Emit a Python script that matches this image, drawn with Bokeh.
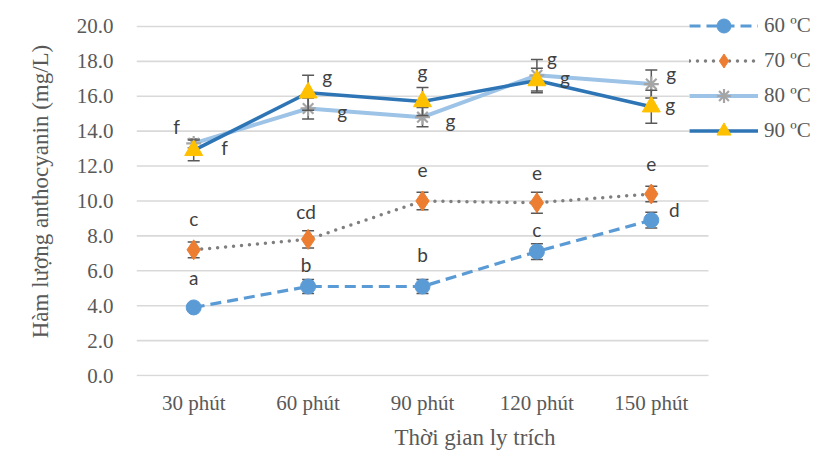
from bokeh.plotting import figure
from bokeh.models import (Range1d, FixedTicker, PrintfTickFormatter,
                          ColumnDataSource, Legend, LegendItem)
from bokeh.core.properties import value
from bokeh.embed import file_html
from bokeh.resources import INLINE

# ---------------- data ----------------
times = ["30 phút", "60 phút", "90 phút", "120 phút", "150 phút"]
series_names = ["60 ºC", "70 ºC", "80 ºC", "90 ºC"]
y_ticks = [0, 2, 4, 6, 8, 10, 12, 14, 16, 18, 20]

v60 = [3.9, 5.1, 5.1, 7.1, 8.9]
e60 = [0.1, 0.4, 0.4, 0.45, 0.45]
v70 = [7.2, 7.8, 10.0, 9.9, 10.4]
e70 = [0.45, 0.5, 0.5, 0.6, 0.45]
v80 = [13.3, 15.3, 14.8, 17.2, 16.7]
e80 = [0.25, 0.6, 0.55, 0.9, 0.8]
v90 = [12.9, 16.2, 15.7, 16.9, 15.4]
e90 = [0.6, 1.0, 0.8, 0.7, 0.95]

l60 = ["a", "b", "b", "c", "d"]
l70 = ["c", "cd", "e", "e", "e"]
l80 = ["f", "g", "g", "g", "g"]
l90 = ["f", "g", "g", "g", "g"]

# label pixel offsets (style)
dx60 = [0, -2, 0, 0, 23];   dy60 = [-30, -22, -32, -22, -11]
dx70 = [0, -2, 0, 0, 0];    dy70 = [-31, -28, -31, -30, -30]
dx80 = [-17, 34, 28, 15, 20]; dy80 = [-17, 3, 3, -17, -11]
dx90 = [31, 19, 0, 28, 19];  dy90 = [-3, -16, -30, -3, -2]

values = [v60, v70, v80, v90]
errors = [e60, e70, e80, e90]
letters = [l60, l70, l80, l90]
dxs = [dx60, dx70, dx80, dx90]
dys = [dy60, dy70, dy80, dy90]

line_styles = [
    dict(line_color="#5B9BD5", line_width=3.2, line_dash="11 6"),
    dict(line_color="#7F7F7F", line_width=3.5, line_dash="0 8", line_cap="round"),
    dict(line_color="#9DC3E6", line_width=4),
    dict(line_color="#2E75B6", line_width=3.5),
]
marker_styles = [
    dict(marker="circle", size=15, fill_color="#5B9BD5", line_color="#5B9BD5"),
    dict(marker="diamond", size=20, fill_color="#ED7D31", line_color="#ED7D31"),
    dict(marker="asterisk", size=15, line_color="#A5A5A5", line_width=2.2),
    dict(marker="triangle", size=18, fill_color="#FFC000", line_color="#FFC000"),
]

# ---------------- layout (pixels) ----------------
W, H = 813, 452
frame_left, frame_top, frame_bottom = 136, 6, 377
plot_right = 708          # where the category area ends
px_per_unit = 17.5
cat_px = (plot_right - frame_left) / len(times)

x_start = -0.5
x_end = x_start + (W - frame_left) / cat_px
y_start = -(frame_bottom - 376) / px_per_unit
y_end = y_start + (frame_bottom - frame_top) / px_per_unit

p = figure(width=W, height=H, x_range=Range1d(x_start, x_end),
           y_range=Range1d(y_start, y_end), output_backend="svg", toolbar_location=None,
           min_border_left=frame_left, min_border_right=0, min_border_top=frame_top,
           min_border_bottom=H - frame_bottom)
p.outline_line_color = None
p.background_fill_color = "white"
p.border_fill_color = "white"
p.xgrid.visible = False
p.ygrid.visible = False

xs = list(range(len(times)))

p.xaxis.ticker = FixedTicker(ticks=xs)
p.xaxis.major_label_overrides = {i: t for i, t in zip(xs, times)}
p.yaxis.ticker = FixedTicker(ticks=y_ticks)
p.yaxis.formatter = PrintfTickFormatter(format="%.1f")
for ax in (p.xaxis[0], p.yaxis[0]):
    ax.axis_line_color = None
    ax.major_tick_line_color = None
    ax.minor_tick_line_color = None
    ax.major_tick_out = 0
    ax.major_tick_in = 0
    ax.minor_tick_out = 0
    ax.minor_tick_in = 0
    ax.major_label_text_font = "Liberation Serif"
    ax.major_label_text_font_size = "21px"
    ax.major_label_text_color = "#595959"
    ax.axis_label_text_font = "Liberation Serif"
    ax.axis_label_text_font_size = "23px"
    ax.axis_label_text_font_style = "normal"
    ax.axis_label_text_color = "#595959"
p.yaxis.major_label_standoff = 23
p.yaxis.axis_label = "Hàm lượng anthocyanin (mg/L)"
p.yaxis.axis_label_standoff = 21
p.xaxis.major_label_standoff = 14
p.xaxis.axis_label = "Thời gian ly trích"
p.xaxis.axis_label_standoff = 7

# horizontal gridlines over the category area only
n = len(y_ticks)
p.segment(x0=[x_start] * n, x1=[len(times) - 0.5] * n, y0=y_ticks, y1=y_ticks,
          line_color="#D9D9D9", line_width=1.6)

items = []
for i in range(4):
    vals = values[i]
    errs = errors[i]
    src = ColumnDataSource(dict(
        x=xs, y=vals,
        lo=[v - e for v, e in zip(vals, errs)],
        hi=[v + e for v, e in zip(vals, errs)],
        t=letters[i], dx=dxs[i], dy=dys[i],
    ))
    ln = p.line("x", "y", source=src, **line_styles[i])
    p.segment(x0="x", y0="lo", x1="x", y1="hi", source=src, line_color="#595959", line_width=1.5)
    p.scatter("x", "lo", source=src, marker="dash", size=12, line_color="#595959", line_width=1.5)
    p.scatter("x", "hi", source=src, marker="dash", size=12, line_color="#595959", line_width=1.5)
    mk = p.scatter("x", "y", source=src, **marker_styles[i])
    p.text(x="x", y="y", text="t", x_offset="dx", y_offset="dy", source=src,
           text_font=value("Lato"), text_font_size="19px", text_color="#404040",
           text_align="center", text_baseline="middle")
    items.append(LegendItem(label=series_names[i], renderers=[ln, mk]))

leg_glyph_h = 35
leg_top = 26 - leg_glyph_h / 2
leg_bottom = leg_top + 4 * leg_glyph_h
legend = Legend(items=items, location=(689 - frame_left, frame_bottom - leg_bottom),
                glyph_width=69, glyph_height=leg_glyph_h,
                spacing=0, label_standoff=6, padding=0, margin=0,
                background_fill_color="white", background_fill_alpha=1,
                border_line_color=None,
                label_text_font="Liberation Serif", label_text_font_size="21px",
                label_text_color="#595959")
p.add_layout(legend)

open("out.html", "w").write(file_html(p, INLINE))
